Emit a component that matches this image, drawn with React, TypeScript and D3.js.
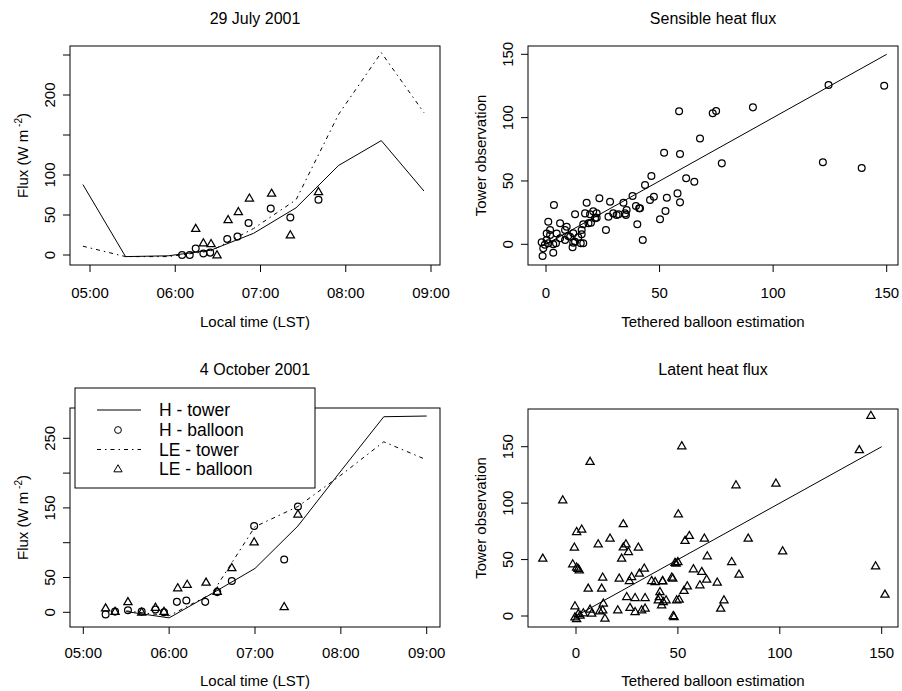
import React from "react";
import * as d3 from "d3";

// ---------- DATA ----------
// 29 July 2001 (time in decimal hours LST)
const julyTowerTime = [4.917, 5.417, 5.917, 6.417, 6.917, 7.417, 7.917, 8.417, 8.917];
const julyHTower = [88, -2, -1, 6, 27, 59, 112, 143, 80];
const julyLETower = [11, -2, -2, 5, 33, 69, 176, 253, 178];
const julyHBalloonTime = [6.08, 6.17, 6.24, 6.33, 6.41, 6.61, 6.73, 6.86, 7.12, 7.35, 7.68];
const julyHBalloon = [0, 0, 8, 2, 3, 20, 23, 40, 58, 47, 69];
const julyLEBalloonTime = [6.24, 6.33, 6.42, 6.49, 6.62, 6.74, 6.87, 7.13, 7.35, 7.68];
const julyLEBalloon = [33, 15, 14, 0, 44, 54, 71, 77, 25, 79];

// 4 October 2001
const octTowerTime = [5.5, 6.0, 6.5, 7.0, 7.5, 8.0, 8.5, 9.0];
const octHTower = [1, -8, 27, 63, 124, 203, 281, 282];
const octLETower = [2, -5, 27, 123, 152, 197, 245, 219];
const octHBalloonTime = [5.26, 5.37, 5.52, 5.68, 5.84, 5.94, 6.09, 6.2, 6.42, 6.56, 6.73, 6.99, 7.34, 7.5];
const octHBalloon = [-3, 1, 3, 1, 4, 0, 15, 17, 15, 29, 45, 124, 76, 152];
const octLEBalloonTime = [5.26, 5.37, 5.52, 5.68, 5.84, 5.94, 6.1, 6.21, 6.43, 6.56, 6.73, 6.99, 7.34, 7.5];
const octLEBalloon = [6, 1, 15, 0, 7, 1, 35, 40, 43, 30, 64, 101, 8, 141];

// Sensible heat flux: balloon estimation (x) vs tower observation (y)
const sensX = [58.6, 73.4, 74.9, 91.1, 67.8, 52, 59, 77.4, 61.7, 65.3, 57.9, 53.2, 59, 52.6, 124.4, 148.9, 121.9, 139, 50.2, 46.4,
  43.6, 47.5, 42.6, 40.2, 41, 38.1, 39.6, 34.1, 35.5, 34.8, 31.9, 28.2, 23.5, 27.5, 26.4, 22.3, 17.9, 17.2, 19.4, 18.7,
  19.8, 16.4, 15.7, 12.8, 15.7, 14.2, 15.3, 8.4, 9.8, 12, 11.7, 6.2, 6.2, 3.5, 1, 3.2, -1.5, 1.8, 0.3, -1.9,
  -0.5, -1.2, 1, 3.2, 4.4, 0.3, 1.8, 4.7, 8.4, 10.6, 12.8, 16.4, 20.8, 29.6, 22.3, 9.1, 12, 21.6, 35.2, 45.8, 31.1, 41.4];
const sensY = [105.1, 103.4, 105.2, 108.1, 83.6, 72.3, 71.3, 63.9, 52.1, 49.4, 40.2, 36.7, 33.1, 26.3, 125.7, 125.2, 64.7, 60.2, 19.7, 53.9,
  46.8, 37.6, 3.4, 15.8, 28.4, 38.1, 30.2, 32.8, 27.1, 24.4, 23.7, 33.6, 36.3, 21.8, 11.3, 21, 32.8, 24.4, 23.7, 16.6,
  17, 15.8, 11.3, 23.7, 8, 5.5, 0.8, 11.3, 6.5, 1.3, -2.4, 16.6, 4.7, 31, 17.8, -6.6, -9.2, 7.3, 3.4, 1.6,
  -0.3, -3.2, 0.8, 0, 0.8, 8.6, 11.3, 8.6, 3.4, 6, 2, 0.8, 26, 24.4, 24.5, 13.9, 8.7, 20.6, 23.1, 35, 23.1, 28.4];

// Latent heat flux: balloon estimation (x) vs tower observation (y)
const latX = [-16.3, -6.5, 6.9, 0.3, 2.8, -0.8, -1.6, 0.3, 1.6, 1, 10.9, 16.7, 23.2, 24.5, 23.2, 25.7, 22.4, 30.6, 13.1, 12.6,
  6, 21.2, 27.3, 26.2, 31.1, 33.5, 37.1, 38.8, 42.5, 47.5, 49.1, 50, 24.9, 29, 33.9, 26.5, 29, 32.2, 33.9, 20.5,
  14.2, 13.1, 13.4, 11.6, 6.9, 7.7, 3.6, 2, -0.5, 0.3, -0.5, 1.1, 40.9, 41.2, 40.4, 42, 42.8, 44.2, 48.1, 50.6,
  51.9, 144.7, 139, 78.5, 98.1, 50.2, 55.6, 53.5, 63, 84.5, 101.4, 64.4, 48.6, 76.4, 57.6, 61.7, 80, 47, 64.1, 69.3,
  42.5, 60.8, 54.6, 53, 147, 151.6, 49.4, 72.6, 71, 47.7];
const latY = [51.1, 102.8, 136.8, 74.7, 76.8, 60.9, 46.1, 43.2, 40.8, 42, 63.8, 68.9, 81.6, 63.8, 61, 57, 51.1, 60.9, 34.3, 24.5,
  24.5, 33.4, 34.8, 31.3, 37.8, 42.3, 31.3, 30.4, 31.3, 33.4, 46.7, 48, 17.1, 16.2, 16.2, 7.4, 3.8, 5.3, 6.9, 5.3,
  -2, 5.3, 11.3, 4.4, 5.9, 2.4, 2.7, 0.6, -0.9, -2.4, 8.9, 2, 17.1, 21.5, 14.2, 9.8, 12.7, 14.2, -0.6, 14.8,
  150.7, 177.6, 147.2, 116.1, 117.6, 90.4, 71.2, 66.8, 68.9, 68.9, 57.6, 53.2, 47.3, 48.1, 41.7, 39.3, 37, 34.3, 32.5, 29.9,
  31, 27.5, 26.6, 22.5, 44.3, 19.2, 14.2, 14.2, 6.8, 0.3];

// 1:1 reference line
const refLineX = [0, 150];
const refLineY = [0, 150];

// Axis ticks
const timeTicks = [5, 6, 7, 8, 9];
const timeTickLabels = ["05:00", "06:00", "07:00", "08:00", "09:00"];
const julyYTicks = [0, 50, 100, 150, 200, 250];
const julyYLabels = ["0", "50", "100", "", "200", ""];
const octYTicks = [0, 50, 100, 150, 200, 250];
const octYLabels = ["0", "50", "", "150", "", "250"];
const fluxTicks = [0, 50, 100, 150];
const fluxLabels = ["0", "50", "100", "150"];

const legendLabels = ["H - tower", "H - balloon", "LE - tower", "LE - balloon"];

// ---------- RENDERING ----------
const FONT = "'Liberation Sans', Arial, Helvetica, sans-serif";
const DASH = "4,4,1.5,4";
const FS = 15;
const MSW = 1.25;

function triPath(cx: number, cy: number) {
  const s = 8.2;
  const h = s * Math.sqrt(3) / 2;
  return `M${cx},${cy - h * 0.6}L${cx + s / 2},${cy + h * 0.4}L${cx - s / 2},${cy + h * 0.4}Z`;
}

type Frame = { l: number; t: number; r: number; b: number };

function Axes(props: {
  f: Frame;
  x: d3.ScaleLinear<number, number>;
  y: d3.ScaleLinear<number, number>;
  xTicks: number[];
  xLabels: string[];
  yTicks: number[];
  yLabels: string[];
  title: string;
  titleY: number;
  xTitle: string;
  xTitleY: number;
  yTitle: React.ReactNode;
  tickLabelY: number;
}) {
  const { f, x, y } = props;
  const cx = (f.l + f.r) / 2;
  const cy = (f.t + f.b) / 2;
  return (
    <g>
      <rect x={f.l} y={f.t} width={f.r - f.l} height={f.b - f.t} fill="none" stroke="#000" strokeWidth={1} />
      {props.xTicks.map((v, i) => (
        <g key={"xt" + i}>
          <line x1={x(v)} x2={x(v)} y1={f.b} y2={f.b + 7} stroke="#000" />
          <text x={x(v)} y={props.tickLabelY} textAnchor="middle" fontSize={FS} fontFamily={FONT}>
            {props.xLabels[i]}
          </text>
        </g>
      ))}
      {props.yTicks.map((v, i) => (
        <g key={"yt" + i}>
          <line x1={f.l - 7} x2={f.l} y1={y(v)} y2={y(v)} stroke="#000" />
          {props.yLabels[i] !== "" && (
            <text transform={`translate(${f.l - 20},${y(v)}) rotate(-90)`} textAnchor="middle" dy="0.35em" fontSize={FS} fontFamily={FONT}>
              {props.yLabels[i]}
            </text>
          )}
        </g>
      ))}
      <text x={cx} y={props.titleY} textAnchor="middle" fontSize={16} fontFamily={FONT}>{props.title}</text>
      <text x={cx} y={props.xTitleY} textAnchor="middle" fontSize={FS} fontFamily={FONT}>{props.xTitle}</text>
      <text transform={`translate(${f.l - 47},${cy}) rotate(-90)`} textAnchor="middle" dy="0.35em" fontSize={FS} fontFamily={FONT}>
        {props.yTitle}
      </text>
    </g>
  );
}

const fluxTitle = (
  <>
    Flux (W m<tspan dy={-6} fontSize={10}> -2</tspan><tspan dy={6}>)</tspan>
  </>
);

export default function App() {
  // panel frames
  const f1: Frame = { l: 70, t: 46, r: 440, b: 265 };
  const f2: Frame = { l: 528, t: 46, r: 898, b: 265 };
  const f3: Frame = { l: 70, t: 408, r: 440, b: 627 };
  const f4: Frame = { l: 528, t: 409, r: 898, b: 627 };

  const x1 = d3.scaleLinear().domain([5, 9]).range([90, 431]);
  const y1 = d3.scaleLinear().domain([0, 200]).range([255, 95]);
  const x3 = d3.scaleLinear().domain([5, 9]).range([83.3, 426.7]);
  const y3 = d3.scaleLinear().domain([0, 250]).range([612.3, 438.3]);
  const x2 = d3.scaleLinear().domain([0, 150]).range([546, 886.7]);
  const y2 = d3.scaleLinear().domain([0, 150]).range([244.3, 54.3]);
  const x4 = d3.scaleLinear().domain([0, 150]).range([576, 881.7]);
  const y4 = d3.scaleLinear().domain([0, 150]).range([616, 446.7]);

  const mkLine = (xs: d3.ScaleLinear<number, number>, ys: d3.ScaleLinear<number, number>, tx: number[], vy: number[]) =>
    d3.line<number>().x((_, i) => xs(tx[i])).y((_, i) => ys(vy[i]))(vy) || "";

  const circles = (xs: any, ys: any, tx: number[], vy: number[], key: string) =>
    vy.map((v, i) => <circle key={key + i} cx={xs(tx[i])} cy={ys(v)} r={3.4} fill="none" stroke="#000" strokeWidth={MSW} />);
  const tris = (xs: any, ys: any, tx: number[], vy: number[], key: string) =>
    vy.map((v, i) => <path key={key + i} d={triPath(xs(tx[i]), ys(v))} fill="none" stroke="#000" strokeWidth={MSW} />);

  const legendRowY = [410, 430, 449.5, 469];

  return (
    <svg width={902} height={691} style={{ position: "absolute", left: 0, top: 0, background: "#fff" }}>
      <rect x={0} y={0} width={902} height={691} fill="#fff" />
      {/* Panel 1 */}
      <Axes f={f1} x={x1} y={y1} xTicks={timeTicks} xLabels={timeTickLabels} yTicks={julyYTicks} yLabels={julyYLabels}
        title="29 July 2001" titleY={24} xTitle="Local time (LST)" xTitleY={327} yTitle={fluxTitle} tickLabelY={298} />
      <path d={mkLine(x1, y1, julyTowerTime, julyHTower)} fill="none" stroke="#000" strokeWidth={1} />
      <path d={mkLine(x1, y1, julyTowerTime, julyLETower)} fill="none" stroke="#000" strokeWidth={1} strokeDasharray={DASH} />
      {circles(x1, y1, julyHBalloonTime, julyHBalloon, "c1")}
      {tris(x1, y1, julyLEBalloonTime, julyLEBalloon, "t1")}

      {/* Panel 2 */}
      <Axes f={f2} x={x2} y={y2} xTicks={fluxTicks} xLabels={fluxLabels} yTicks={fluxTicks} yLabels={fluxLabels}
        title="Sensible heat flux" titleY={24} xTitle="Tethered balloon estimation" xTitleY={327} yTitle="Tower observation" tickLabelY={298} />
      <path d={mkLine(x2, y2, refLineX, refLineY)} fill="none" stroke="#000" strokeWidth={1} />
      {circles(x2, y2, sensX, sensY, "c2")}

      {/* Panel 3 */}
      <Axes f={f3} x={x3} y={y3} xTicks={timeTicks} xLabels={timeTickLabels} yTicks={octYTicks} yLabels={octYLabels}
        title="4 October 2001" titleY={375} xTitle="Local time (LST)" xTitleY={686} yTitle={fluxTitle} tickLabelY={658} />
      <path d={mkLine(x3, y3, octTowerTime, octHTower)} fill="none" stroke="#000" strokeWidth={1} />
      <path d={mkLine(x3, y3, octTowerTime, octLETower)} fill="none" stroke="#000" strokeWidth={1} strokeDasharray={DASH} />
      {circles(x3, y3, octHBalloonTime, octHBalloon, "c3")}
      {tris(x3, y3, octLEBalloonTime, octLEBalloon, "t3")}

      {/* Legend */}
      <g>
        <rect x={75} y={388} width={240} height={100} fill="#fff" stroke="#000" strokeWidth={1} />
        <line x1={97} x2={141} y1={legendRowY[0]} y2={legendRowY[0]} stroke="#000" />
        <circle cx={118} cy={legendRowY[1]} r={3.4} fill="none" stroke="#000" />
        <line x1={97} x2={141} y1={legendRowY[2]} y2={legendRowY[2]} stroke="#000" strokeDasharray={DASH} />
        <path d={triPath(118, legendRowY[3])} fill="none" stroke="#000" />
        {legendLabels.map((s, i) => (
          <text key={s} x={159} y={legendRowY[i]} dy="0.35em" fontSize={17.5} fontFamily={FONT}>{s}</text>
        ))}
      </g>

      {/* Panel 4 */}
      <Axes f={f4} x={x4} y={y4} xTicks={fluxTicks} xLabels={fluxLabels} yTicks={fluxTicks} yLabels={fluxLabels}
        title="Latent heat flux" titleY={375} xTitle="Tethered balloon estimation" xTitleY={686} yTitle="Tower observation" tickLabelY={658} />
      <path d={mkLine(x4, y4, refLineX, refLineY)} fill="none" stroke="#000" strokeWidth={1} />
      {tris(x4, y4, latX, latY, "t4")}
    </svg>
  );
}
